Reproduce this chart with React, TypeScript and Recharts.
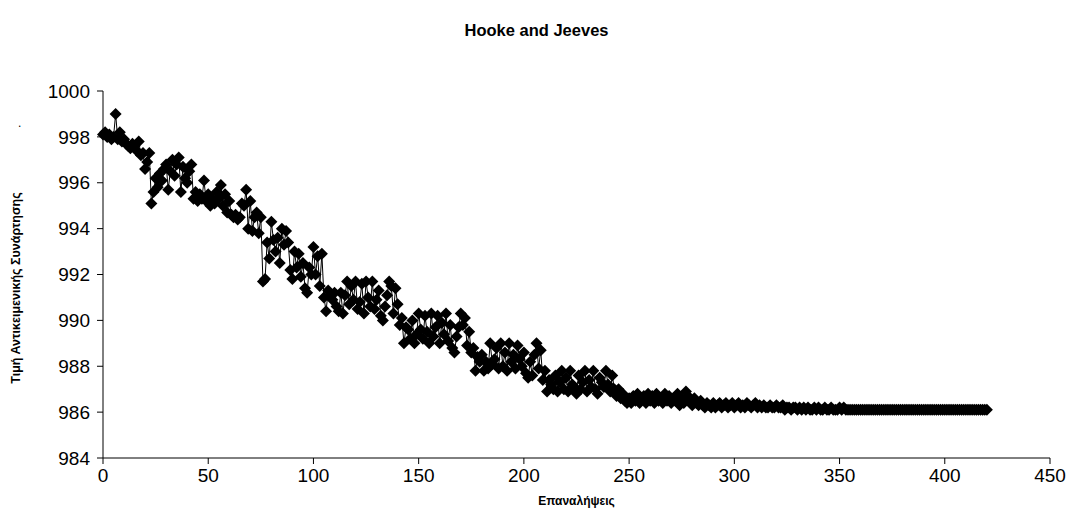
import React from "react";
import { LineChart, Line, XAxis, YAxis } from "recharts";

const chartTitle = "Hooke and Jeeves";
const xAxisTitle = "Επαναλήψεις";
const yAxisTitle = "Τιμή Αντικειμενικής Συνάρτησης";

const xTicks = [0, 50, 100, 150, 200, 250, 300, 350, 400, 450];
const yTicks = [984, 986, 988, 990, 992, 994, 996, 998, 1000];

// objective value per iteration (iteration = position in list)
const values0to99 = [
  998.1, 998.2, 998.0, 998.1, 997.9, 998.0, 999.0, 997.9, 998.2, 997.8,
  997.9, 997.7, 997.6, 997.5, 997.7, 997.6, 997.4, 997.8, 997.2, 997.3,
  996.6, 996.9, 997.3, 995.1, 995.6, 996.2, 995.8, 996.4, 996.1, 996.6,
  996.8, 995.7, 996.5, 997.0, 996.3, 996.8, 997.1, 995.6, 996.7, 996.2,
  996.0, 996.5, 996.8, 995.3, 995.6, 995.2, 995.5, 995.3, 996.1, 995.2,
  995.5, 995.0, 995.3, 995.1, 995.6, 995.3, 995.9, 995.0, 995.5, 994.7,
  995.2, 994.6, 994.5, 994.6, 994.4, 994.5, 995.1, 995.0, 995.7, 994.0,
  995.2, 993.9, 994.5, 994.7, 993.8, 994.5, 991.7, 991.8, 993.4, 992.7,
  994.3, 993.5, 993.0, 993.6, 992.5, 994.0, 993.3, 993.9, 993.4, 992.2,
  991.8, 993.0, 992.3, 992.9, 991.9, 992.5, 991.4, 991.2, 992.3, 992.0,
];
const values100to199 = [
  993.2, 992.0, 992.8, 991.5, 992.9, 991.0, 990.4, 991.3, 991.1, 990.9,
  991.2, 990.6, 990.4, 991.2, 990.3, 991.1, 991.7, 990.7, 991.5, 990.9,
  991.7, 990.5, 990.8, 991.6, 990.3, 991.7, 991.0, 990.6, 991.7, 990.5,
  990.9, 991.3, 990.2, 990.0, 990.6, 991.1, 991.7, 991.5, 990.3, 991.4,
  990.7, 989.8, 990.1, 989.0, 989.7, 989.6, 989.2, 990.0, 989.0, 989.4,
  990.3, 989.6, 989.2, 990.2, 989.5, 989.0, 990.3, 989.3, 989.7, 990.2,
  989.0, 989.9, 989.4, 990.3, 989.1, 989.8, 988.8, 988.6, 989.3, 989.7,
  990.3, 989.8, 990.1, 988.9, 989.5, 988.6, 988.8, 987.8, 988.4, 988.2,
  988.5, 987.8, 988.2, 987.9, 989.0, 988.1, 988.3, 988.8, 987.9, 989.0,
  988.0, 988.6, 987.8, 989.0, 988.2, 988.5, 987.9, 988.9, 988.3, 988.0,
];
const values200to299 = [
  988.6, 987.7, 987.5, 988.2, 987.6, 988.5, 989.0, 987.9, 988.7, 987.4,
  987.8, 986.9, 987.4, 987.2, 987.0, 987.6, 986.9, 987.3, 987.8, 987.0,
  987.5, 986.9, 987.8, 987.2, 987.1, 986.8, 987.6, 987.0, 987.3, 987.8,
  986.9, 987.4, 987.1, 987.8, 987.0, 986.8, 987.5, 987.3, 987.1, 987.8,
  987.2, 986.9, 987.6, 987.0, 986.7, 987.0, 986.6, 986.8, 986.5, 986.4,
  986.6, 986.4, 986.7, 986.5, 986.8, 986.4, 986.6, 986.7, 986.4, 986.8,
  986.5, 986.7, 986.4, 986.8, 986.5, 986.6, 986.4, 986.8, 986.5, 986.7,
  986.4, 986.6, 986.5, 986.8, 986.3, 986.6, 986.4, 986.9, 986.7, 986.5,
  986.3, 986.6, 986.4, 986.3, 986.5, 986.3, 986.2, 986.4, 986.3, 986.2,
  986.4, 986.2, 986.3, 986.4, 986.2, 986.3, 986.4, 986.2, 986.3, 986.4,
];
const values300to420 = [
  986.2, 986.3, 986.4, 986.2, 986.3, 986.2, 986.4, 986.3, 986.2, 986.3,
  986.4, 986.2, 986.3, 986.2, 986.3, 986.2, 986.2, 986.3, 986.2, 986.2,
  986.3, 986.2, 986.2, 986.3, 986.1, 986.2, 986.2, 986.1, 986.2, 986.2,
  986.1, 986.2, 986.1, 986.2, 986.1, 986.2, 986.1, 986.1, 986.2, 986.1,
  986.2, 986.1, 986.1, 986.2, 986.1, 986.1, 986.2, 986.1, 986.1, 986.1,
  986.2, 986.1, 986.2, 986.1, 986.1, 986.1, 986.1, 986.1, 986.1, 986.1,
  986.1, 986.1, 986.1, 986.1, 986.1, 986.1, 986.1, 986.1, 986.1, 986.1,
  986.1, 986.1, 986.1, 986.1, 986.1, 986.1, 986.1, 986.1, 986.1, 986.1,
  986.1, 986.1, 986.1, 986.1, 986.1, 986.1, 986.1, 986.1, 986.1, 986.1,
  986.1, 986.1, 986.1, 986.1, 986.1, 986.1, 986.1, 986.1, 986.1, 986.1,
  986.1, 986.1, 986.1, 986.1, 986.1, 986.1, 986.1, 986.1, 986.1, 986.1,
  986.1, 986.1, 986.1, 986.1, 986.1, 986.1, 986.1, 986.1, 986.1, 986.1,
  986.1,
];

const allValues = [...values0to99, ...values100to199, ...values200to299, ...values300to420];
const data = allValues.map((v, i) => ({ iter: i, value: v }));

const FONT = "'Liberation Sans', Arial, sans-serif";

const Diamond = (props: any) => {
  const { cx, cy, index } = props;
  if (cx == null || cy == null) return <g key={`d-${index}`} />;
  const r = 6;
  return (
    <polygon
      key={`d-${index}`}
      points={`${cx},${cy - r} ${cx + r},${cy} ${cx},${cy + r} ${cx - r},${cy}`}
      fill="#000"
      stroke="none"
    />
  );
};

export default function App() {
  return (
    <div
      style={{
        position: "absolute",
        left: 0,
        top: 0,
        width: 1073,
        height: 510,
        background: "#fff",
        fontFamily: FONT,
      }}
    >
      <LineChart
        width={1073}
        height={510}
        data={data}
        margin={{ top: 91, right: 23, bottom: 0, left: 0 }}
      >
        <XAxis
          dataKey="iter"
          type="number"
          domain={[0, 450]}
          ticks={xTicks}
          interval={0}
          axisLine={{ stroke: "#000", strokeWidth: 1 }}
          tickLine={{ stroke: "#000", strokeWidth: 1 }}
          tickSize={6}
          tickMargin={5}
          tick={{ fill: "#000", fontSize: 19, fontFamily: FONT }}
          height={52}
        />
        <YAxis
          type="number"
          domain={[984, 1000]}
          ticks={yTicks}
          interval={0}
          axisLine={{ stroke: "#000", strokeWidth: 1 }}
          tickLine={{ stroke: "#000", strokeWidth: 1 }}
          tickSize={6}
          tickMargin={7}
          tick={{ fill: "#000", fontSize: 19, fontFamily: FONT }}
          width={103}
        />
        <Line
          type="linear"
          dataKey="value"
          stroke="#000"
          strokeWidth={1}
          dot={Diamond}
          activeDot={false}
          isAnimationActive={false}
        />
      </LineChart>
      <div
        style={{
          position: "absolute",
          left: 0,
          top: 21,
          width: 1073,
          textAlign: "center",
          fontWeight: "bold",
          fontSize: 16.5,
          color: "#000",
        }}
      >
        {chartTitle}
      </div>
      <div
        style={{
          position: "absolute",
          left: 103,
          width: 947,
          top: 494,
          textAlign: "center",
          fontWeight: "bold",
          fontSize: 12,
          color: "#000",
        }}
      >
        {xAxisTitle}
      </div>
      <div
        style={{
          position: "absolute",
          left: 16,
          top: 288,
          transform: "translate(-50%, -50%) rotate(-90deg)",
          whiteSpace: "nowrap",
          fontWeight: "bold",
          fontSize: 12.5,
          color: "#000",
        }}
      >
        {yAxisTitle}
      </div>
      <div
        style={{
          position: "absolute",
          left: 18,
          top: 116,
          fontSize: 12,
          color: "#000",
        }}
      >
        .
      </div>
    </div>
  );
}
